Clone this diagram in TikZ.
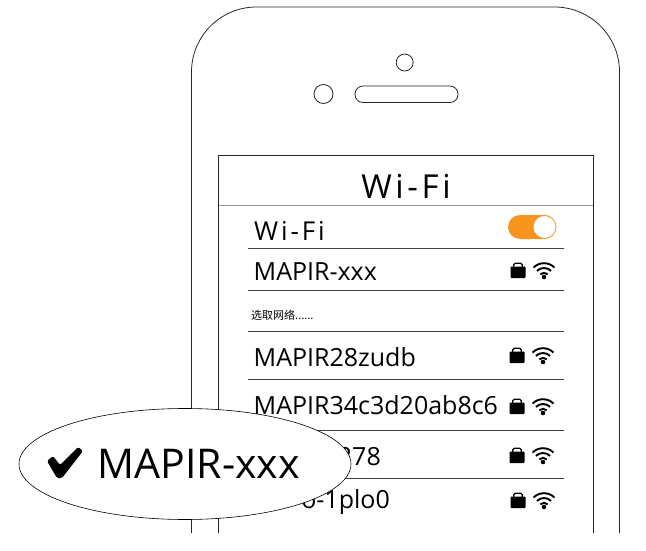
\documentclass[tikz,border=0pt]{standalone}
\usepackage{fontspec}
\setmainfont{Open Sans}
\newfontfamily\cjkfont{Noto Sans CJK SC}
\newfontfamily\spacedfont[LetterSpace=11]{Open Sans}
\usetikzlibrary{positioning}
\definecolor{switchorange}{RGB}{247,148,30}

\tikzset{
    rowtext/.style={anchor=base west, inner sep=0pt, font=\fontsize{25}{25}\selectfont},
    rowline/.style={draw=black!75, line width=0.8pt},
    lockwifi/.pic={
        \fill[rounded corners=0.8pt] (-7.5,-4.5) rectangle (7.5,7);
        \draw[line width=1.3pt, rounded corners=1.5pt] (-4.2,-4) -- (-4.2,-7.8) -- (4.2,-7.8) -- (4.2,-4);
        \fill (26,6) circle (2.3pt);
        \foreach \r in {5.2,10,14.8}
            \draw[line width=1.9pt] (26,7) ++(225:\r) arc[start angle=225, end angle=315, radius=\r];
    }
}

\begin{document}
\begin{tikzpicture}[x=1pt, y=-1pt]
    \useasboundingbox (0,0) rectangle (646,551);

    % phone
    \draw[black!85, line width=0.8pt] (191.5,533) -- (191.5,72) arc[start angle=180, end angle=270, radius=65]
        -- (554.5,7) arc[start angle=270, end angle=360, radius=65] -- (619.5,533);
    \draw[black!85, line width=0.8pt] (404.7,62.5) circle (8.5pt);
    \draw[black!85, line width=0.8pt] (323.5,94) circle (9.5pt);
    \draw[black!85, line width=0.8pt, rounded corners=8pt] (355,86) rectangle (458,102.5);

    % screen
    \draw[black!85, line width=0.8pt] (218.5,533) -- (218.5,155.5) -- (593.5,155.5) -- (593.5,533);
    \draw[black!40, line width=0.8pt] (219,205.5) -- (593,205.5);
    \node[anchor=base, inner sep=0pt, font=\spacedfont\fontsize{33}{33}\selectfont] (title) at (406,198) {Wi-Fi};

    % rows
    \foreach \y in {248,290,331,379,430,478}
        \draw[rowline] (248,\y) -- (564,\y);
    \node[rowtext, font=\spacedfont\fontsize{26}{26}\selectfont] (wifirow) at (254,240) {Wi-Fi};
    \node[rowtext] (rowa) at (253.5,280) {MAPIR-xxx};
    \node[anchor=base west, inner sep=0pt, font=\cjkfont\fontsize{11}{11}\selectfont] (pick) at (251,319) {选取网络......};
    \node[rowtext] (rowb) at (253.5,366) {MAPIR28zudb};
    \node[rowtext] (rowc) at (253.5,414) {MAPIR34c3d20ab8c6};
    \node[rowtext, anchor=base east] (rowd) at (381,465) {278};
    \node[rowtext, anchor=base east] (rowe) at (390,508) {o-1plo0};

    % toggle
    \fill[switchorange, rounded corners=12pt] (508,215) rectangle (556,239);
    \filldraw[fill=white, draw=switchorange, line width=0.8pt] (544.5,227) circle (11.5pt);

    % icons
    \foreach \px/\py in {518/271,517/356,517/407,517/456,518/501}
        \pic at (\px,\py) {lockwifi};

    % callout
    \filldraw[fill=white, draw=black, line width=0.6pt] (185,464) ellipse [x radius=166, y radius=55.5];
    \fill[rounded corners=1.5pt] (47,461) -- (53,456) -- (60,465) -- (78,447) -- (83,451) -- (62,478) -- (57,478) -- cycle;
    \node[anchor=base west, inner sep=0pt, font=\fontsize{41}{41}\selectfont] (picked) at (97.5,478) {MAPIR-xxx};
\end{tikzpicture}
\end{document}
